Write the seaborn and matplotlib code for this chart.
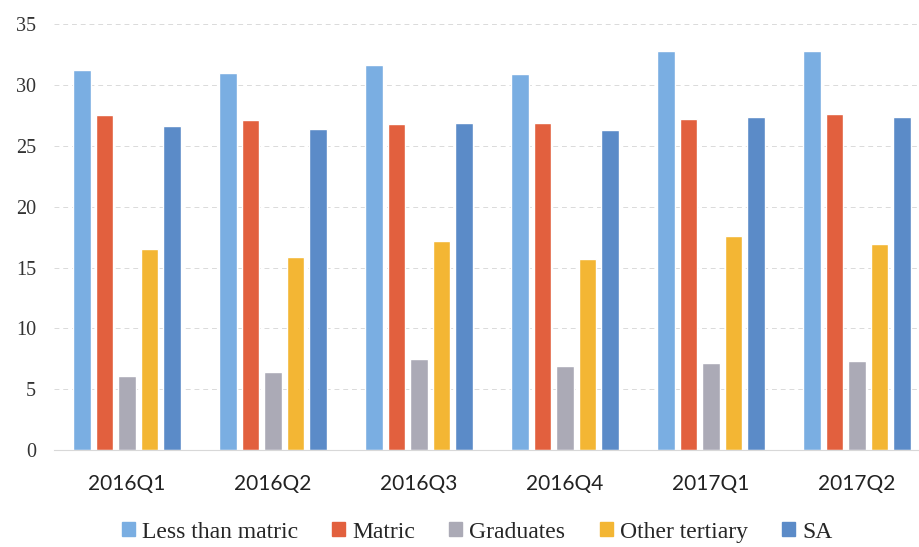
# Grouped bar chart: rates by education level, 2016Q1 - 2017Q2
import pandas as pd
import matplotlib.pyplot as plt
import seaborn as sns

# Data
quarters = ['2016Q1', '2016Q2', '2016Q3', '2016Q4', '2017Q1', '2017Q2']
less_than_matric = [31.2, 31.0, 31.6, 30.9, 32.8, 32.8]
matric = [27.5, 27.1, 26.8, 26.9, 27.2, 27.6]
graduates = [6.1, 6.4, 7.5, 6.9, 7.2, 7.3]
other_tertiary = [16.5, 15.9, 17.2, 15.7, 17.6, 16.9]
sa = [26.6, 26.4, 26.9, 26.3, 27.4, 27.4]

series_names = ['Less than matric', 'Matric', 'Graduates', 'Other tertiary', 'SA']
series_values = [less_than_matric, matric, graduates, other_tertiary, sa]
colors = ['#7aaee2', '#e2603e', '#abaab6', '#f3b634', '#5b8bc8']

# Long-form table for seaborn
rows = []
for name, vals in zip(series_names, series_values):
    for q, v in zip(quarters, vals):
        rows.append({'quarter': q, 'series': name, 'value': v})
df = pd.DataFrame(rows)

sns.set_style("white")

fig = plt.figure(figsize=(9.19, 5.47), dpi=100)
ax = fig.add_axes([0.0588, 0.177, 0.9412, 0.779])

sns.barplot(data=df, x='quarter', y='value', hue='series', order=quarters,
            hue_order=series_names, palette=colors, width=0.77, gap=0.22,
            saturation=1, ax=ax, legend=False)

ax.set_ylim(0, 35)
ax.set_xlim(-0.5, 5.425)
ax.set_yticks(range(0, 36, 5))
ax.set_xlabel('')
ax.set_ylabel('')

# Faint dashed grid
ax.yaxis.grid(True, color='#dadada', linestyle=(0, (5, 4)), linewidth=0.7)
ax.set_axisbelow(True)
for s in ['top', 'right', 'left']:
    ax.spines[s].set_visible(False)
ax.spines['bottom'].set_color('#d8d8d8')
ax.spines['bottom'].set_linewidth(0.8)

ax.tick_params(axis='both', length=0)
ax.tick_params(axis='y', pad=13)
ax.tick_params(axis='x', pad=17)
for lbl in ax.get_yticklabels():
    lbl.set_fontfamily('Liberation Serif')
    lbl.set_fontsize(14.5)
    lbl.set_color('#333333')
for lbl in ax.get_xticklabels():
    lbl.set_fontfamily('Lato')
    lbl.set_fontsize(15)
    lbl.set_color('#222222')

# Legend along the bottom
handles = [plt.Rectangle((0, 0), 1, 1, color=c) for c in colors]
fig.legend(handles, series_names, loc='center', bbox_to_anchor=(0.519, 0.027),
           ncol=5, frameon=False, handlelength=0.55, handleheight=0.55,
           handletextpad=0.3, columnspacing=1.45,
           prop={'family': 'Liberation Serif', 'size': 17})

plt.savefig('out.png', dpi=100)
